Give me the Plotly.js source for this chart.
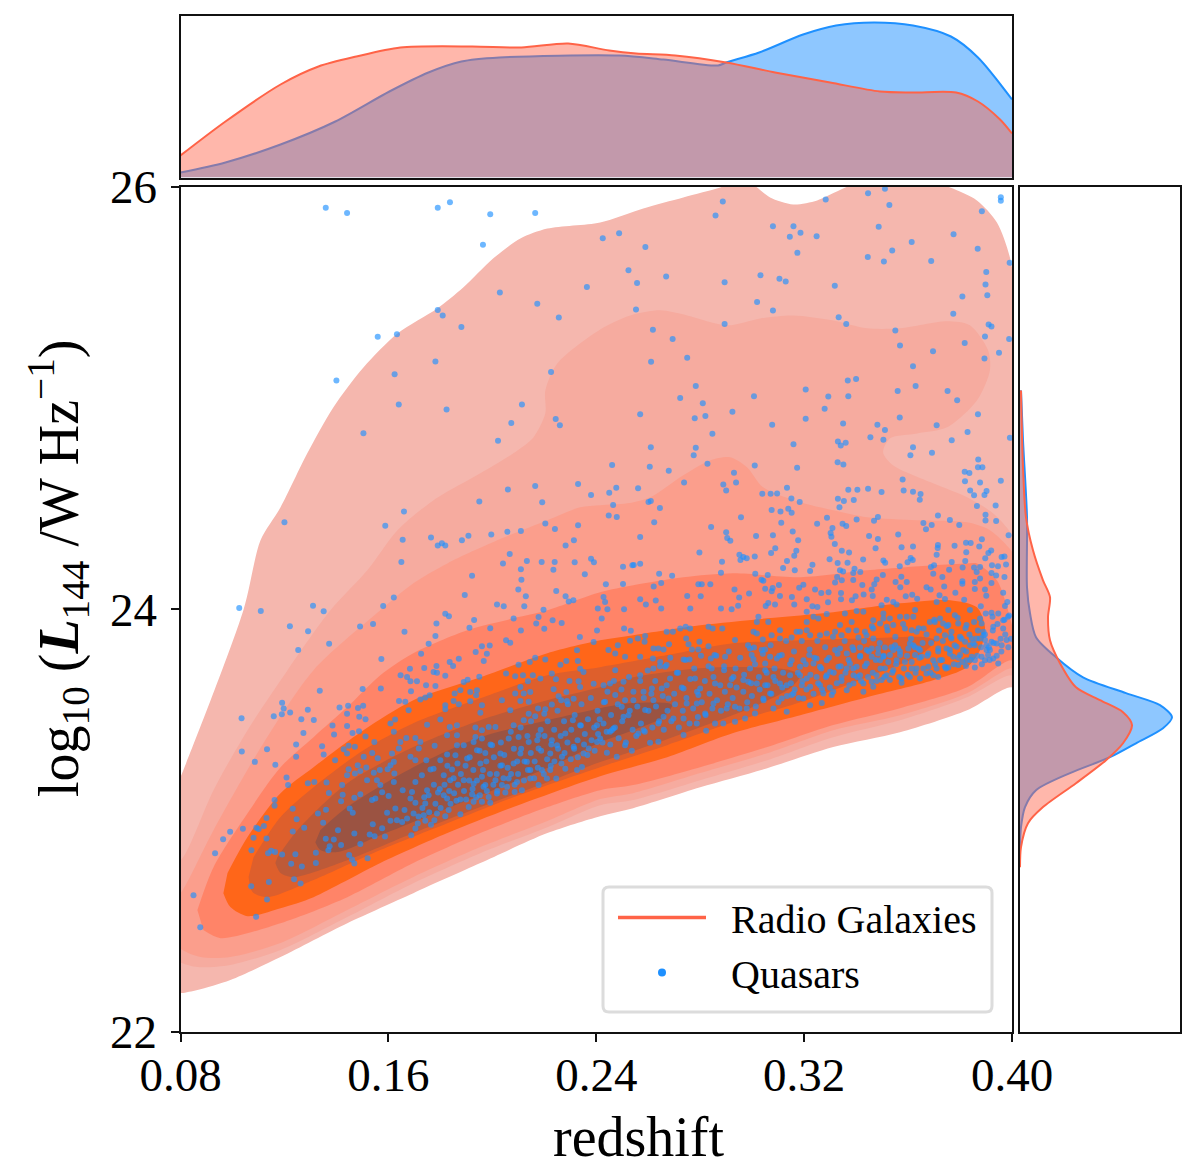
<!DOCTYPE html>
<html><head><meta charset="utf-8">
<script src="https://cdn.plot.ly/plotly-3.0.1.min.js"></script>
<style>html,body{margin:0;padding:0;background:#fff}</style></head>
<body><div id="chart" style="width:1200px;height:1176px"></div>
<script>
// KDE contour levels of the radio galaxies, [redshift, log10 L144], outermost first
const rgLevel1=[[.076,23.1],[.08,23.206],[.1042,23.995],[.1108,24.326],[.1185,24.482],[.1288,24.738],[.1388,24.955],[.1504,25.144],[.1635,25.305],[.1788,25.423],[.1888,25.522],[.2004,25.66],[.2108,25.754],[.2212,25.801],[.2415,25.83],[.2581,25.896],[.2735,25.948],[.2877,25.995],[.2935,26.02],[.3,26.01],[.3019,25.995],[.3069,25.948],[.3158,25.915],[.325,25.934],[.335,25.99],[.3415,26.02],[.3685,26.02],[.3762,25.995],[.3865,25.934],[.3942,25.83],[.3992,25.664],[.4015,25.46],[.403,24.5],[.403,23.6],[.3996,23.631],[.3827,23.522],[.3569,23.418],[.3312,23.348],[.3058,23.248],[.28,23.158],[.2542,23.059],[.2415,23.021],[.2212,22.941],[.1954,22.799],[.1696,22.657],[.1442,22.515],[.1185,22.355],[.0992,22.246],[.0865,22.199],[.0804,22.184],[.0762,22.18]];
const rgLevel2=[[.076,22.78],[.0808,22.823],[.0927,23.144],[.1058,23.428],[.1212,23.712],[.1377,23.995],[.1519,24.184],[.1635,24.374],[.1773,24.515],[.1954,24.643],[.2081,24.738],[.2158,24.813],[.2204,24.927],[.2204,25.035],[.225,25.163],[.2415,25.324],[.2531,25.39],[.2646,25.414],[.275,25.39],[.2904,25.343],[.3031,25.376],[.3158,25.39],[.3312,25.366],[.3442,25.329],[.3569,25.329],[.375,25.362],[.3838,25.343],[.3908,25.225],[.3915,25.13],[.3865,24.988],[.375,24.861],[.3635,24.832],[.3531,24.809],[.3504,24.742],[.3542,24.681],[.3696,24.596],[.3827,24.53],[.3927,24.454],[.3996,24.359],[.403,24.25],[.403,23.65],[.3996,23.688],[.3827,23.584],[.3569,23.475],[.3312,23.395],[.3058,23.286],[.28,23.191],[.2542,23.097],[.2415,23.073],[.2212,22.969],[.1954,22.846],[.1696,22.704],[.1442,22.544],[.1185,22.388],[.0992,22.317],[.0865,22.307],[.0804,22.326],[.0762,22.35]];
const rgLevel3=[[.076,22.6],[.0808,22.671],[.0927,22.955],[.1119,23.366],[.1312,23.712],[.1569,23.995],[.1696,24.123],[.1827,24.217],[.2019,24.326],[.2212,24.421],[.2338,24.482],[.2415,24.492],[.2519,24.501],[.2608,24.53],[.2735,24.634],[.2838,24.704],[.2915,24.719],[.2981,24.671],[.3042,24.577],[.3185,24.506],[.3312,24.468],[.3442,24.435],[.3635,24.421],[.3827,24.411],[.3915,24.374],[.3996,24.279],[.403,24.2],[.403,23.7],[.3996,23.721],[.3827,23.603],[.3569,23.499],[.3312,23.428],[.3058,23.319],[.28,23.225],[.2542,23.13],[.2415,23.102],[.2212,22.998],[.1954,22.875],[.1696,22.733],[.1442,22.577],[.1185,22.421],[.0992,22.355],[.0877,22.355],[.0808,22.388],[.076,22.45]];
const rgLevel4=[[.0865,22.577],[.0927,22.78],[.1058,23.035],[.1185,23.253],[.1312,23.395],[.1442,23.537],[.1569,23.688],[.1696,23.792],[.1904,23.901],[.2081,23.957],[.2212,23.995],[.2415,24.08],[.2542,24.113],[.2735,24.151],[.2927,24.17],[.3185,24.151],[.3442,24.184],[.3696,24.208],[.3827,24.217],[.3865,24.217],[.3942,24.137],[.3977,24.028],[.4,23.924],[.403,23.8],[.403,23.72],[.3996,23.759],[.3827,23.631],[.3569,23.532],[.3312,23.452],[.3058,23.348],[.28,23.253],[.2542,23.168],[.2415,23.144],[.2212,23.064],[.1954,22.941],[.1696,22.799],[.1442,22.638],[.1185,22.515],[.0954,22.444],[.0888,22.482]];
const rgLevel5=[[.0965,22.657],[.0992,22.591],[.1058,22.548],[.1185,22.586],[.1312,22.638],[.1569,22.799],[.1827,22.941],[.2081,23.064],[.2415,23.21],[.2673,23.3],[.2927,23.414],[.3185,23.499],[.3442,23.584],[.3696,23.664],[.3827,23.726],[.3877,23.806],[.3896,23.915],[.3865,24.009],[.3762,24.043],[.3569,24.028],[.3312,23.986],[.3058,23.957],[.28,23.924],[.2542,23.877],[.2415,23.853],[.2212,23.792],[.1954,23.678],[.1696,23.57],[.1504,23.428],[.1312,23.253],[.1185,23.13],[.1058,22.922],[.0981,22.752]];
const rgLevel6=[[.1062,22.733],[.1077,22.662],[.1135,22.638],[.1312,22.719],[.1569,22.861],[.1827,22.988],[.2081,23.111],[.2415,23.253],[.2673,23.357],[.2927,23.466],[.3185,23.56],[.3442,23.678],[.3646,23.783],[.3704,23.853],[.3665,23.868],[.3442,23.863],[.3185,23.853],[.2927,23.839],[.2673,23.783],[.2415,23.726],[.2212,23.688],[.1954,23.579],[.1696,23.461],[.1504,23.333],[.1312,23.158],[.1185,23.017],[.1081,22.827]];
const rgLevel7=[[.1165,22.799],[.1185,22.752],[.1235,22.733],[.1442,22.813],[.1696,22.941],[.1954,23.064],[.2212,23.182],[.2415,23.277],[.2608,23.357],[.28,23.442],[.2992,23.532],[.3146,23.626],[.3185,23.688],[.3146,23.712],[.2992,23.726],[.28,23.721],[.2542,23.678],[.2415,23.631],[.2212,23.57],[.1954,23.475],[.1696,23.348],[.1442,23.177],[.125,22.955],[.1173,22.827]];
const rgLevel8=[[.1319,22.898],[.1338,22.861],[.1404,22.851],[.1569,22.931],[.1827,23.059],[.2081,23.182],[.2262,23.277],[.2415,23.371],[.2542,23.428],[.2658,23.489],[.2692,23.546],[.2673,23.556],[.2542,23.556],[.2415,23.532],[.2212,23.475],[.1954,23.395],[.1696,23.253],[.1442,23.064],[.1338,22.955]];
const rgLevels=[rgLevel1,rgLevel2,rgLevel3,rgLevel4,rgLevel5,rgLevel6,rgLevel7,rgLevel8];
const rgLevelColors=['#F5B7AE','#F6AB9F','#FB9E8C','#FF8468','#FF6619','#DE5F2C','#BD5A38','#9B5342'];

// top marginal density against redshift
const topRgZ=[.08,.0973,.1185,.1331,.1477,.1646,.1923,.2112,.2292,.2450,.2554,.2704,.2900,.3088,.3300,.3492,.3615,.3785,.3869,.3954,.4];
const topRgD=[.22,.56,.93,1.11,1.21,1.30,1.31,1.30,1.34,1.27,1.24,1.22,1.15,1.05,.95,.86,.85,.85,.76,.58,.44];
const topQsoZ=[.08,.0973,.1185,.1396,.1604,.1754,.1881,.2027,.2488,.2658,.2869,.2900,.3027,.3196,.3323,.3469,.3619,.3765,.3869,.4];
const topQsoD=[.05,.15,.33,.56,.86,1.05,1.16,1.20,1.22,1.18,1.12,1.15,1.25,1.43,1.52,1.55,1.52,1.41,1.20,.78];
// right marginal density against log10 L144
const sideRgL=[25.035,24.671,24.435,24.279,24.137,24.057,23.962,23.853,23.745,23.631,23.57,23.513,23.452,23.366,23.286,23.177,23.064,22.988,22.875,22.78];
const sideRgD=[.01,.03,.06,.13,.23,.30,.28,.30,.40,.56,.80,1.03,1.12,1.03,.86,.56,.23,.08,.01,0];
const sideQsoL=[25.035,24.799,24.435,24.104,23.981,23.868,23.773,23.678,23.603,23.546,23.489,23.437,23.366,23.3,23.225,23.144,23.064,22.969,22.875];
const sideQsoD=[.01,.03,.07,.07,.10,.16,.36,.63,1.06,1.40,1.52,1.43,1.16,.90,.50,.16,.05,.01,0];

// quasars, [redshift, log10 L144]
const quasarsUpperLeft=[[.1359,25.9],[.1441,25.875],[.179,25.9],[.1837,25.926],[.1992,25.869],[.2165,25.875],[.1964,25.725],[.2029,25.498],[.2364,25.524],[.2173,25.445],[.2256,25.38],[.179,25.416],[.1809,25.39],[.1881,25.335],[.1559,25.289],[.1633,25.301],[.1781,25.172],[.1624,25.112],[.14,25.082],[.2226,25.123],[.164,24.969],[.1824,24.945],[.2114,24.969],[.2244,24.9],[.226,24.87],[.2073,24.881],[.1504,24.833],[.2022,24.797],[.12,24.411],[.166,24.463],[.1588,24.395],[.195,24.51],[.206,24.567],[.2165,24.583],[.233,24.592],[.238,24.54],[.2192,24.506],[.2204,24.406],[.2241,24.38],[.233,24.397],[.1655,24.329],[.1764,24.34],[.179,24.302],[.1806,24.312],[.1819,24.302],[.1883,24.326],[.1908,24.348],[.1996,24.354],[.2058,24.367],[.211,24.37],[.2282,24.302],[.2314,24.326],[.2067,24.261],[.165,24.223],[.2041,24.216],[.2133,24.228],[.219,24.223],[.224,24.223],[.2317,24.222],[.238,24.239],[.2391,24.222],[.211,24.189],[.2235,24.187],[.1922,24.159],[.2112,24.14],[.2356,24.165],[.21,24.093],[.2246,24.086],[.1894,24.067],[.2129,24.061],[.2282,24.061],[.1621,24.055],[.2018,24.022],[.2044,24.014],[.2294,24.037],[.2312,24.042],[.2123,24.014],[.1026,24.006],[.1109,23.992],[.131,24.017],[.1351,23.99],[.158,24.015],[.2197,23.998],[.2406,24.004]];
const quasarsUpperRight=[[.2887,25.929],[.2859,25.863],[.2488,25.779],[.2425,25.755],[.2589,25.714],[.308,25.812],[.3159,25.812],[.3186,25.781],[.3145,25.762],[.3248,25.765],[.3174,25.686],[.3283,25.938],[.3446,25.968],[.3511,25.989],[.3528,25.913],[.3487,25.809],[.3884,25.883],[.3957,25.949],[.3957,25.933],[.3775,25.774],[.3614,25.738],[.3539,25.697],[.3445,25.667],[.3507,25.645],[.3689,25.647],[.3868,25.705],[.3991,25.639],[.2524,25.604],[.2557,25.544],[.2669,25.574],[.2894,25.547],[.3032,25.58],[.3105,25.563],[.3129,25.55],[.3318,25.53],[.3901,25.595],[.3898,25.536],[.3905,25.486],[.3809,25.48],[.3774,25.398],[.2553,25.418],[.3019,25.453],[.308,25.413],[.2894,25.35],[.3333,25.382],[.3362,25.349],[.2618,25.322],[.2694,25.278],[.3551,25.319],[.3569,25.248],[.3818,25.26],[.391,25.347],[.3921,25.338],[.3896,25.29],[.3989,25.278],[.3696,25.221],[.395,25.213],[.3894,25.186],[.2611,25.171],[.275,25.19],[.3619,25.15],[.2783,25.056],[.3206,25.04],[.3368,25.082],[.34,25.089],[.3629,25.056],[.356,25.032],[.3752,25.033],[.3789,24.989],[.2723,24.999],[.281,24.975],[.3007,25.008],[.3293,25.007],[.337,25.008],[.3279,24.948],[.2924,24.934],[.2569,24.922],[.2779,24.904],[.282,24.914],[.3206,24.901],[.3568,24.907],[.3869,24.922],[.3077,24.873],[.335,24.879],[.3482,24.873],[.3511,24.848],[.371,24.87],[.3829,24.838],[.2847,24.83],[.3455,24.814],[.3505,24.802],[.3768,24.8],[.3992,24.811],[.333,24.794],[.336,24.788],[.3341,24.775],[.3159,24.781],[.261,24.767],[.2783,24.764],[.2775,24.728],[.3619,24.767],[.3692,24.74],[.3609,24.729],[.387,24.709],[.2828,24.688],[.3329,24.695],[.3351,24.685],[.2461,24.682],[.2606,24.674],[.301,24.68],[.3173,24.67],[.3869,24.672],[.3886,24.672],[.2679,24.655],[.293,24.646],[.3818,24.65],[.3836,24.644],[.2738,24.6],[.2938,24.6],[.3579,24.614],[.3819,24.606],[.3877,24.6],[.3957,24.608],[.2889,24.59],[.29,24.562],[.3134,24.575],[.2477,24.575],[.2561,24.573],[.245,24.551],[.337,24.565],[.3405,24.565],[.3446,24.57],[.3498,24.555],[.3583,24.562],[.3619,24.556],[.3648,24.545],[.3839,24.562],[.3902,24.559],[.3854,24.539],[.3894,24.54],[.3039,24.546],[.3071,24.546],[.3096,24.548],[.3151,24.524],[.333,24.523],[.3353,24.512],[.3391,24.517],[.3645,24.518],[.2601,24.507],[.261,24.512],[.3183,24.507],[.2465,24.493],[.3865,24.488],[.3937,24.491],[.2645,24.479],[.3336,24.482],[.3139,24.476],[.3075,24.469],[.3109,24.463],[.3152,24.457],[.2448,24.444],[.2479,24.436],[.2957,24.435],[.3288,24.433],[.3484,24.436],[.3469,24.419],[.3402,24.425],[.3715,24.444],[.3898,24.447],[.3898,24.42],[.3761,24.422],[.3939,24.417],[.2623,24.412],[.3112,24.409],[.325,24.405],[.3348,24.405],[.3362,24.394],[.3659,24.408],[.3691,24.398],[.3797,24.398],[.2842,24.389],[.3309,24.384],[.3669,24.378],[.29,24.364],[.3156,24.368],[.3302,24.361],[.3562,24.354],[.3987,24.35],[.2569,24.342],[.3015,24.346],[.308,24.35],[.3305,24.343],[.345,24.346],[.2904,24.337],[.2916,24.324],[.3177,24.326],[.3484,24.332],[.3884,24.331],[.3823,24.315],[.3841,24.313],[.3318,24.309],[.3715,24.304],[.3779,24.301],[.3575,24.293],[.3619,24.297],[.3874,24.297],[.3475,24.288],[.3714,24.29],[.3089,24.288],[.317,24.277],[.3345,24.277],[.3373,24.268],[.3824,24.27],[.392,24.278],[.3909,24.266],[.2797,24.268],[.3073,24.266],[.2951,24.258],[.2966,24.247],[.301,24.25],[.2979,24.241],[.3162,24.253],[.371,24.258],[.396,24.247],[.3971,24.249],[.2955,24.233],[.3298,24.236],[.3427,24.235],[.361,24.242],[.3618,24.233],[.3134,24.228],[.2884,24.225],[.3505,24.231],[.3512,24.22],[.3329,24.219],[.3367,24.22],[.3598,24.222],[.3768,24.223],[.382,24.228],[.3897,24.241],[.2569,24.215],[.2539,24.208],[.2544,24.209],[.2503,24.201],[.3232,24.211],[.3568,24.204],[.3688,24.2],[.37,24.208],[.3119,24.195],[.3758,24.187],[.381,24.198],[.3854,24.198],[.3877,24.2],[.3923,24.208],[.3946,24.203],[.3977,24.212],[.3394,24.192],[.3164,24.184],[.3223,24.181],[.3338,24.184],[.335,24.179],[.2642,24.168],[.288,24.173],[.3012,24.168],[.3416,24.176],[.3389,24.171],[.3697,24.168],[.3864,24.176],[.3921,24.171],[.3939,24.16],[.3971,24.152],[.2692,24.159],[.306,24.162],[.3503,24.162],[.3574,24.154],[.3732,24.152],[.3327,24.152],[.3345,24.137],[.3389,24.138],[.3877,24.145],[.3036,24.139],[.3043,24.135],[.3479,24.141],[.3552,24.129],[.3595,24.129],[.3809,24.133],[.3809,24.121],[.3857,24.129],[.3921,24.124],[.2437,24.118],[.2503,24.119],[.265,24.124],[.2793,24.118],[.2806,24.118],[.2839,24.118],[.3319,24.126],[.3103,24.115],[.3197,24.116],[.3424,24.115],[.347,24.118],[.2621,24.108],[.3739,24.108],[.3181,24.102],[.357,24.104],[.305,24.097],[.3079,24.1],[.2932,24.094],[.3242,24.093],[.346,24.094],[.3671,24.104],[.3687,24.094],[.3896,24.094],[.3857,24.096],[.3075,24.085],[.3266,24.077],[.3294,24.08],[.3342,24.077],[.2988,24.075],[.3782,24.078],[.3966,24.078],[.2428,24.058],[.2802,24.061],[.275,24.063],[.3107,24.063],[.3429,24.07],[.3153,24.058],[.3464,24.063],[.3591,24.061],[.3616,24.069],[.3721,24.066],[.3901,24.064],[.3398,24.061],[.2569,24.047],[.2629,24.041],[.295,24.055],[.321,24.047],[.3342,24.047],[.3384,24.042],[.3518,24.045],[.3635,24.05],[.3742,24.049],[.3816,24.045],[.2434,24.034],[.2591,24.022],[.3062,24.03],[.3088,24.022],[.3052,24.015],[.2946,24.017],[.3162,24.023],[.3292,24.033],[.3543,24.034],[.371,24.034],[.388,24.014],[.3982,24.034],[.3498,24.019],[.3232,24.014],[.3251,24.011],[.265,24.004],[.2762,24.004],[.288,24.004],[.2921,24],[.2443,24],[.2507,24],[.3556,24.023],[.3973,24.015]];
const quasarsLowerLeft=[[.1221,23.919],[.1291,23.896],[.1491,23.918],[.1541,23.93],[.1253,23.807],[.1372,23.837],[.1662,23.893],[.1785,23.932],[.1781,23.874],[.1755,23.837],[.1726,23.79],[.1573,23.765],[.1912,23.913],[.193,23.949],[.1992,23.91],[.2082,23.956],[.2178,23.963],[.2169,23.932],[.22,23.908],[.2232,23.948],[.2267,23.935],[.211,23.9],[.1819,23.979],[.1833,23.967],[.2337,23.869],[.2403,23.9],[.1683,23.719],[.1647,23.688],[.1672,23.68],[.1685,23.659],[.171,23.659],[.1738,23.722],[.1785,23.732],[.1774,23.703],[.1787,23.699],[.1819,23.685],[.1836,23.751],[.1849,23.732],[.1871,23.766],[.1936,23.798],[.196,23.825],[.199,23.828],[.1979,23.79],[.1967,23.755],[.2053,23.853],[.2069,23.841],[.2101,23.738],[.2144,23.751],[.2165,23.77],[.2204,23.762],[.2262,23.738],[.2285,23.755],[.2326,23.806],[.2329,23.755],[.239,23.845],[.1501,23.623],[.1571,23.625],[.1336,23.614],[.1191,23.558],[.1197,23.53],[.119,23.503],[.1222,23.511],[.1159,23.494],[.129,23.525],[.1265,23.48],[.1313,23.476],[.1035,23.484],[.1412,23.535],[.1445,23.543],[.1441,23.506],[.1483,23.533],[.1503,23.543],[.1488,23.492],[.1512,23.48],[.1385,23.45],[.1441,23.448],[.1273,23.415],[.1391,23.407],[.1462,23.415],[.1487,23.423],[.1512,23.398],[.1245,23.36],[.1345,23.352],[.1036,23.327],[.1133,23.338],[.1086,23.278],[.1165,23.264],[.1245,23.302],[.1351,23.313],[.1395,23.286],[.1208,23.204],[.1214,23.169],[.129,23.177],[.1315,23.183],[.1362,23.18],[.1428,23.338],[.1447,23.354],[.1471,23.349],[.1441,23.317],[.1546,23.372],[.1505,23.302],[.1538,23.32],[.1559,23.295],[.1608,23.459],[.1626,23.478],[.1621,23.42],[.1641,23.566],[.1665,23.562],[.1678,23.522],[.1687,23.612],[.1723,23.573],[.1742,23.582],[.1759,23.593],[.1745,23.64],[.1781,23.637],[.189,23.656],[.1905,23.667],[.195,23.681],[.1819,23.546],[.1819,23.527],[.1851,23.566],[.1871,23.551],[.1855,23.601],[.1877,23.617],[.1915,23.609],[.1941,23.617],[.1938,23.593],[.1915,23.565],[.196,23.546],[.1954,23.51],[.2053,23.696],[.2088,23.683],[.2118,23.688],[.2156,23.688],[.2185,23.672],[.2229,23.696],[.2245,23.669],[.2297,23.661],[.2332,23.659],[.2338,23.719],[.2351,23.703],[.239,23.648],[.2037,23.569],[.2108,23.632],[.2137,23.659],[.2146,23.609],[.2088,23.601],[.2121,23.601],[.2108,23.566],[.214,23.562],[.2229,23.549],[.2236,23.622],[.2285,23.609],[.2338,23.632],[.2255,23.588],[.2265,23.569],[.2287,23.566],[.2313,23.577],[.2069,23.522],[.214,23.506],[.2176,23.53],[.2204,23.527],[.1749,23.454],[.18,23.478],[.1864,23.451],[.1836,23.443],[.1935,23.44],[.196,23.428],[.1986,23.443],[.2012,23.443],[.2082,23.451],[.2121,23.475],[.2165,23.494],[.22,23.506],[.085,22.647],[.0876,22.495],[.0933,22.846],[.0964,22.912],[.0991,22.947],[.104,22.961],[.1092,22.966],[.1101,22.96],[.1121,22.974],[.1131,23.013],[.1081,22.919],[.1131,22.915],[.1073,22.86],[.1137,22.846],[.1149,22.857],[.1164,22.852],[.1072,22.69],[.114,22.71],[.1133,22.627],[.1091,22.545],[.1162,23.097],[.1162,23.07],[.1232,23.056],[.1247,23.007],[.1232,22.948],[.1276,22.966],[.1191,22.84],[.1242,22.841],[.1226,22.796],[.1267,22.783],[.1321,22.799],[.1321,22.848],[.1237,22.723],[.1262,22.703],[.1329,23.034],[.1349,22.99],[.136,23.052],[.1371,23.131],[.1418,23.092],[.1424,23.123],[.1492,23.125],[.1469,23.108],[.1451,23.057],[.1463,23.037],[.1406,22.955],[.1359,22.914],[.139,22.911],[.1374,22.879],[.1369,22.86],[.1418,22.885],[.1469,22.939],[.1528,22.934],[.154,22.983],[.1547,22.926],[.1576,22.964],[.1587,22.925],[.1492,22.889],[.1449,22.837],[.146,22.816],[.1469,22.797],[.152,22.822],[.1688,22.931],[.1422,23.169],[.1447,23.243],[.1441,23.215],[.1471,23.223],[.1482,23.262],[.1518,23.191],[.1492,23.235],[.1515,23.251],[.1544,23.227],[.1567,23.239],[.1597,23.243],[.1556,23.191],[.1569,23.168],[.1537,23.097],[.1576,23.134],[.155,23.105],[.1601,23.117],[.1614,23.317],[.164,23.341],[.1646,23.372],[.1669,23.391],[.1704,23.391],[.1723,23.372],[.1717,23.341],[.1685,23.302],[.1704,23.286],[.1621,23.278],[.1608,23.262],[.1623,23.223],[.1621,23.183],[.1746,23.286],[.1778,23.354],[.1729,23.215],[.1704,23.183],[.1655,23.144],[.1691,23.136],[.1685,23.105],[.1704,23.084],[.1742,23.081],[.1749,23.144],[.1755,23.12],[.1791,23.133],[.1826,23.105],[.1838,23.191],[.1813,23.215],[.18,23.286],[.1774,23.246],[.1762,23.242],[.1826,23.313],[.1845,23.242],[.1864,23.404],[.1826,23.404],[.1864,23.357],[.189,23.357],[.1858,23.309],[.1903,23.294],[.1935,23.396],[.1928,23.372],[.196,23.388],[.1941,23.333],[.1973,23.32],[.1999,23.357],[.2031,23.317],[.2063,23.388],[.2101,23.396],[.214,23.372],[.2178,23.404],[.2229,23.38],[.2281,23.412],[.231,23.475],[.2338,23.451],[.2403,23.451],[.1595,23.037],[.1608,22.999],[.1627,23.057],[.1633,23.002],[.1653,22.994],[.1672,23.01],[.1662,23.05],[.1697,23.034],[.1713,22.986],[.1704,22.963],[.1742,22.999],[.1736,23.026],[.1777,23.002],[.1787,23.034],[.1819,23.021],[.1832,23.05],[.1877,23.03],[.1862,23.094],[.1909,23.065],[.1928,23.089],[.196,23.089],[.1922,23.125],[.1986,23.112],[.2018,23.128],[.205,23.133],[.2086,23.136],[.2114,23.144],[.1992,23.084],[.189,23.191],[.1928,23.175],[.196,23.207],[.1973,23.168],[.2012,23.191],[.2037,23.168],[.2063,23.199],[.2095,23.183],[.2178,23.168],[.2146,23.199],[.221,23.199],[.2246,23.199],[.2146,23.239],[.2191,23.239],[.2223,23.239],[.2281,23.246],[.2326,23.239],[.2345,23.254],[.2371,23.341],[.2351,23.317],[.2249,23.357],[.2178,23.341],[.2108,23.317],[.2082,23.27],[.2037,23.262],[.1954,23.27],[.2133,23.278],[.2223,23.317],[.2268,23.302],[.2313,23.349],[.2403,23.372]];
const quasarsLowerRight=[[.321,23.988],[.3236,23.964],[.3255,23.956],[.3287,23.977],[.3357,23.98],[.3402,23.992],[.3428,23.988],[.321,23.94],[.3184,23.893],[.3505,23.98],[.3466,23.948],[.3505,23.956],[.353,23.956],[.3569,23.964],[.3595,23.964],[.3627,23.996],[.362,23.964],[.3755,23.996],[.3684,23.94],[.3723,23.956],[.3703,23.94],[.3735,23.933],[.378,23.972],[.3838,23.996],[.3825,23.925],[.3877,23.956],[.3466,23.909],[.3492,23.933],[.3518,23.917],[.3543,23.925],[.3588,23.909],[.3614,23.901],[.3633,23.893],[.366,23.909],[.3755,23.925],[.3767,23.893],[.3793,23.933],[.371,23.862],[.3742,23.877],[.3767,23.862],[.38,23.87],[.3819,23.846],[.3845,23.862],[.321,23.901],[.3223,23.877],[.3261,23.877],[.3287,23.885],[.3319,23.893],[.3338,23.925],[.3383,23.94],[.3434,23.893],[.344,23.877],[.3344,23.877],[.337,23.901],[.3409,23.866],[.3466,23.862],[.2421,23.956],[.2507,23.909],[.2533,23.898],[.253,23.851],[.256,23.862],[.2588,23.873],[.2586,23.846],[.2671,23.893],[.2695,23.893],[.2723,23.909],[.2744,23.917],[.2761,23.909],[.2832,23.917],[.2848,23.909],[.2885,23.909],[.3062,23.94],[.3018,23.94],[.3024,23.964],[.3005,23.893],[.3018,23.885],[.3107,23.901],[.3075,23.877],[.3107,23.862],[.3152,23.866],[.3171,23.893],[.2934,23.854],[.3041,23.857],[.2746,23.862],[.2755,23.835],[.2797,23.846],[.2832,23.825],[.268,23.835],[.2483,23.83],[.2447,23.807],[.2473,23.791],[.2511,23.775],[.2569,23.775],[.262,23.814],[.2639,23.814],[.2659,23.81],[.2618,23.767],[.2646,23.751],[.2671,23.736],[.2736,23.762],[.2759,23.762],[.2768,23.81],[.2793,23.81],[.2855,23.783],[.2841,23.767],[.2896,23.775],[.2992,23.814],[.3007,23.819],[.3037,23.807],[.305,23.81],[.2998,23.783],[.3005,23.764],[.305,23.743],[.3069,23.775],[.3095,23.767],[.3114,23.783],[.3152,23.759],[.3197,23.759],[.322,23.783],[.3248,23.767],[.3287,23.759],[.3319,23.807],[.3338,23.814],[.3364,23.791],[.339,23.807],[.3415,23.819],[.346,23.814],[.3485,23.791],[.3511,23.819],[.355,23.83],[.3562,23.814],[.353,23.783],[.3492,23.759],[.362,23.83],[.3646,23.807],[.3627,23.783],[.3601,23.814],[.3716,23.814],[.3748,23.814],[.3787,23.822],[.3838,23.83],[.3774,23.775],[.38,23.783],[.3697,23.759],[.3678,23.728],[.3742,23.728],[.371,23.72],[.3556,23.759],[.3588,23.751],[.3633,23.72],[.3614,23.72],[.3543,23.712],[.3511,23.72],[.3479,23.688],[.346,23.657],[.3498,23.665],[.3517,23.688],[.353,23.665],[.3575,23.672],[.3607,23.68],[.3646,23.672],[.3575,23.652],[.3671,23.696],[.3441,23.743],[.3402,23.728],[.3415,23.688],[.339,23.688],[.3364,23.72],[.3332,23.728],[.33,23.704],[.3261,23.728],[.3236,23.743],[.3184,23.728],[.3146,23.688],[.3184,23.688],[.321,23.672],[.3248,23.68],[.3287,23.688],[.3344,23.68],[.339,23.649],[.3428,23.649],[.3466,23.633],[.3428,23.61],[.3364,23.617],[.3312,23.61],[.3274,23.602],[.3223,23.633],[.3261,23.641],[.3191,23.641],[.3159,23.602],[.3133,23.641],[.3107,23.649],[.3152,23.594],[.3197,23.578],[.3223,23.546],[.3268,23.557],[.3306,23.594],[.3133,23.515],[.3082,23.531],[.3114,23.578],[.3069,23.602],[.305,23.641],[.3082,23.68],[.305,23.712],[.2992,23.72],[.2966,23.665],[.2985,23.657],[.3018,23.649],[.2928,23.68],[.2915,23.641],[.2857,23.649],[.2844,23.72],[.2892,23.712],[.278,23.672],[.28,23.625],[.2736,23.625],[.2684,23.672],[.271,23.699],[.262,23.72],[.2665,23.728],[.2569,23.688],[.2473,23.712],[.2505,23.657],[.2428,23.641],[.2453,23.649],[.2473,23.594],[.2434,23.562],[.2498,23.539],[.2543,23.57],[.2582,23.61],[.2614,23.625],[.2652,23.625],[.2678,23.578],[.262,23.57],[.2588,23.523],[.2524,23.499],[.2466,23.436],[.2453,23.42],[.2562,23.412],[.2582,23.428],[.2639,23.46],[.2659,23.491],[.2697,23.483],[.2736,23.483],[.2748,23.554],[.2787,23.554],[.2793,23.594],[.2851,23.554],[.2902,23.531],[.2934,23.539],[.2979,23.531],[.3043,23.578],[.3011,23.507],[.2787,23.46],[.2819,23.507],[.2857,23.46],[.2889,23.46],[.2934,23.468],[.2973,23.483],[.2823,23.425],[.2736,23.405],[.2607,23.368],[.2639,23.373],[.2537,23.33],[.2479,23.302],[.2441,23.321],[.2511,23.357],[.2415,23.389],[.246,23.428],[.2428,23.46],[.2505,23.491],[.346,23.775],[.3485,23.814],[.3505,23.775],[.3543,23.807],[.3569,23.783],[.3607,23.838],[.364,23.814],[.3652,23.775],[.3678,23.791],[.3723,23.759],[.3761,23.807],[.3812,23.807],[.3857,23.83],[.3864,23.862],[.389,23.893],[.3902,23.807],[.3845,23.775],[.3415,23.775],[.3441,23.807],[.3376,23.743],[.3883,23.933],[.3921,23.983],[.3925,23.964],[.3947,23.98],[.3966,23.948],[.3985,23.964],[.3928,23.917],[.3966,23.909],[.389,23.877],[.3896,23.854],[.3902,23.83],[.3877,23.862],[.3921,23.846],[.3941,23.838],[.3979,23.854],[.396,23.83],[.3915,23.807],[.3908,23.783],[.3928,23.767],[.3947,23.743],[.3883,23.775],[.3896,23.759],[.3857,23.759],[.3825,23.759],[.3823,23.731],[.3857,23.725],[.3793,23.736],[.3755,23.725],[.3716,23.68],[.3697,23.688]];
// dots in the crowded band, where single dots merge: positions estimated by eye
const quasarsCrowdedBand=[[.1716,23.02],[.1731,23.06],[.1738,23.11],[.1757,23.04],[.1764,22.98],[.1775,23.17],[.1781,23.08],[.1798,23.15],[.1801,23.06],[.1813,23.12],[.1816,23.17],[.1827,23.26],[.1834,23.14],[.1839,23.08],[.1851,23.2],[.1853,23.13],[.1866,23.27],[.1868,23.17],[.1877,23.1],[.1879,23.22],[.1891,23.14],[.1897,23.26],[.1899,23.1],[.1911,23.19],[.1913,23.3],[.1924,23.15],[.1927,23.24],[.1938,23.11],[.1941,23.19],[.1951,23.33],[.1952,23.12],[.1964,23.24],[.1966,23.16],[.1977,23.28],[.1979,23.14],[.1991,23.22],[.1993,23.36],[.2004,23.17],[.2006,23.3],[.2017,23.22],[.2019,23.14],[.2031,23.26],[.2033,23.37],[.2043,23.2],[.2046,23.31],[.2057,23.16],[.2059,23.25],[.2071,23.42],[.2072,23.22],[.2083,23.34],[.2086,23.17],[.2096,23.28],[.2099,23.22],[.2109,23.44],[.2111,23.34],[.2122,23.19],[.2124,23.28],[.2135,23.4],[.2137,23.24],[.2148,23.32],[.2149,23.47],[.2161,23.2],[.2163,23.28],[.2173,23.38],[.2175,23.25],[.2186,23.43],[.2188,23.33],[.2198,23.22],[.2201,23.4],[.2211,23.29],[.2213,23.47],[.2225,23.26],[.2227,23.36],[.2238,23.43],[.2239,23.28],[.2251,23.52],[.2253,23.34],[.2263,23.4],[.2266,23.27],[.2276,23.47],[.2278,23.32],[.2289,23.37],[.2291,23.55],[.2302,23.29],[.2304,23.43],[.2315,23.34],[.2317,23.5],[.2328,23.38],[.2329,23.3],[.2341,23.45],[.2343,23.55],[.2353,23.36],[.2356,23.41],[.2366,23.31],[.2368,23.48],[.2379,23.58],[.2382,23.38],[.2392,23.44],[.2394,23.33],[.2405,23.52],[.2407,23.41],[.2413,23.48],[.2424,23.37],[.2429,23.56],[.244,23.42],[.2443,23.61],[.2454,23.36],[.2457,23.5],[.2468,23.66],[.2472,23.44],[.2483,23.55],[.2486,23.39],[.2497,23.62],[.25,23.47],[.2511,23.57],[.2514,23.37],[.2526,23.68],[.2529,23.52],[.254,23.43],[.2543,23.61],[.2554,23.4],[.2558,23.54],[.2569,23.66],[.2572,23.46],[.2583,23.58],[.2587,23.42],[.2598,23.71],[.2601,23.52],[.2612,23.6],[.2616,23.44],[.2627,23.66],[.263,23.54],[.2642,23.47],[.2645,23.73],[.2656,23.59],[.266,23.43],[.2671,23.64],[.2674,23.52],[.2685,23.77],[.2689,23.47],[.27,23.6],[.2703,23.55],[.2715,23.7],[.2718,23.44],[.2729,23.63],[.2733,23.52],[.2744,23.76],[.2747,23.58],[.2759,23.46],[.2762,23.67],[.2773,23.53],[.2777,23.72],[.2788,23.61],[.2791,23.49],[.2803,23.78],[.2806,23.56],[.2818,23.66],[.2821,23.5],[.2832,23.73],[.2836,23.6],[.2847,23.53],[.2851,23.68],[.2862,23.78],[.2865,23.57],[.2877,23.64],[.288,23.52],[.2892,23.73],[.2895,23.61],[.2906,23.55],[.291,23.8],[.2921,23.67],[.2925,23.58],[.2936,23.72],[.294,23.63],[.2951,23.53],[.2954,23.77],[.2966,23.61],[.2969,23.69],[.2981,23.56],[.2984,23.83],[.2996,23.65],[.2999,23.59],[.3011,23.74],[.3014,23.54],[.3026,23.68],[.3029,23.62],[.3041,23.79],[.3044,23.57],[.3056,23.7],[.3059,23.64],[.3071,23.83],[.3074,23.6],[.3086,23.72],[.3089,23.66],[.3101,23.56],[.3104,23.78],[.3116,23.63],[.3119,23.7],[.3131,23.85],[.3134,23.59],[.3146,23.74],[.3149,23.65],[.3161,23.8],[.3164,23.62],[.3176,23.7],[.3179,23.58],[.3191,23.85],[.3194,23.66],[.3206,23.74],[.3209,23.62],[.3221,23.81],[.3224,23.69],[.3236,23.6],[.3239,23.77],[.3251,23.85],[.3254,23.65],[.3266,23.72],[.3269,23.62],[.3281,23.82],[.3284,23.68],[.3296,23.77],[.3299,23.63],[.3311,23.87],[.3314,23.7],[.3326,23.65],[.3329,23.79],[.3341,23.73],[.3344,23.66],[.3356,23.85],[.3359,23.7],[.3371,23.76],[.3374,23.64],[.3386,23.82],[.3389,23.72],[.3401,23.9],[.3404,23.68],[.3416,23.78],[.3419,23.66],[.3431,23.85],[.3434,23.73],[.3446,23.68],[.3449,23.8],[.3461,23.92],[.3464,23.7],[.3476,23.76],[.3479,23.66],[.3491,23.84],[.3494,23.72],[.3506,23.78],[.3509,23.68],[.3521,23.9],[.3524,23.75],[.3536,23.82],[.3539,23.7],[.3551,23.87],[.3554,23.74],[.3566,23.68],[.3569,23.8],[.3581,23.93],[.3584,23.72],[.3596,23.78],[.3599,23.69],[.3611,23.86],[.3614,23.75],[.3626,23.82],[.3629,23.7],[.3641,23.91],[.3644,23.77],[.3656,23.84],[.3659,23.72],[.3671,23.88],[.3674,23.78],[.3686,23.7],[.3689,23.84],[.3701,23.95],[.3704,23.74],[.3716,23.8],[.3719,23.9],[.3731,23.76],[.3734,23.85],[.3746,23.72],[.3749,23.92],[.3761,23.79],[.3764,23.87],[.3776,23.74],[.3779,23.83],[.3791,23.96],[.3794,23.77],[.3806,23.86],[.3809,23.75],[.3821,23.91],[.3824,23.8],[.3836,23.88],[.3839,23.76],[.3851,23.84],[.3854,23.94],[.3866,23.78],[.3869,23.9],[.3881,23.82],[.3884,23.74],[.3896,23.88],[.3899,23.98],[.3911,23.82],[.3914,23.76],[.3926,23.9],[.3929,23.84],[.3941,23.78],[.3944,23.93],[.3956,23.86],[.3959,23.8],[.3971,23.95],[.3974,23.88],[.3986,23.82],[.3989,23.97],[.3996,23.86]];
const quasars=[...quasarsUpperLeft,...quasarsUpperRight,...quasarsLowerLeft,...quasarsLowerRight,...quasarsCrowdedBand];

const TICKS_X=[.08,.16,.24,.32,.40], TICKLABELS_X=['0.08','0.16','0.24','0.32','0.40'];
const TICKS_Y=[22,24,26], TICKLABELS_Y=['22','24','26'];
const RED='#FF6347', BLUE='#1E90FF', W=1200, H=1176;
const px=v=>v/W, py=v=>1-v/H;
const serif='"Liberation Serif","Times New Roman",serif';

const traces=[];
rgLevels.forEach((lv,i)=>traces.push({type:'scatter',mode:'lines',x:lv.map(p=>p[0]),y:lv.map(p=>p[1]),
  fill:'toself',fillcolor:rgLevelColors[i],line:{width:0,shape:'spline',smoothing:.8},hoverinfo:'skip',showlegend:false,xaxis:'x',yaxis:'y'}));
traces.push({type:'scatter',mode:'markers',x:quasars.map(p=>p[0]),y:quasars.map(p=>p[1]),
  marker:{color:BLUE,size:6,opacity:.65},showlegend:false,xaxis:'x',yaxis:'y'});
// legend entries
traces.push({type:'scatter',mode:'lines',x:[null],y:[null],name:'\u00a0\u00a0Radio Galaxies',line:{color:RED,width:3.5},xaxis:'x',yaxis:'y'});
traces.push({type:'scatter',mode:'markers',x:[null],y:[null],name:'\u00a0\u00a0Quasars',marker:{color:BLUE,size:8},xaxis:'x',yaxis:'y'});
// top marginal
traces.push({type:'scatter',mode:'lines',x:topQsoZ,y:topQsoD,fill:'tozeroy',fillcolor:'rgba(30,144,255,.5)',line:{color:BLUE,width:2,shape:'spline',smoothing:.8},showlegend:false,xaxis:'x2',yaxis:'y2'});
traces.push({type:'scatter',mode:'lines',x:topRgZ,y:topRgD,fill:'tozeroy',fillcolor:'rgba(255,99,71,.46)',line:{color:RED,width:2,shape:'spline',smoothing:.8},showlegend:false,xaxis:'x2',yaxis:'y2'});
// right marginal
traces.push({type:'scatter',mode:'lines',x:sideQsoD,y:sideQsoL,fill:'tozerox',fillcolor:'rgba(30,144,255,.5)',line:{color:BLUE,width:2,shape:'spline',smoothing:.8},showlegend:false,xaxis:'x3',yaxis:'y3'});
traces.push({type:'scatter',mode:'lines',x:sideRgD,y:sideRgL,fill:'tozerox',fillcolor:'rgba(255,99,71,.46)',line:{color:RED,width:2,shape:'spline',smoothing:.8},showlegend:false,xaxis:'x3',yaxis:'y3'});

const frame={showline:true,mirror:true,linecolor:'#111',linewidth:2,showgrid:false,zeroline:false};
const bare={...frame,ticks:'',showticklabels:false};
const tickFont={family:serif,size:47,color:'#000'};
const r=6,lx0=603,lx1=992,ly0=887,ly1=1012;
const boxPath=`M${px(lx0+r)},${py(ly0)} L${px(lx1-r)},${py(ly0)} Q${px(lx1)},${py(ly0)} ${px(lx1)},${py(ly0+r)} L${px(lx1)},${py(ly1-r)} Q${px(lx1)},${py(ly1)} ${px(lx1-r)},${py(ly1)} L${px(lx0+r)},${py(ly1)} Q${px(lx0)},${py(ly1)} ${px(lx0)},${py(ly1-r)} L${px(lx0)},${py(ly0+r)} Q${px(lx0)},${py(ly0)} ${px(lx0+r)},${py(ly0)} Z`;

const layout={width:W,height:H,margin:{l:0,r:0,t:0,b:0},paper_bgcolor:'#fff',plot_bgcolor:'#fff',
  font:{family:serif,color:'#000'},showlegend:true,hovermode:false,
  xaxis:{...frame,domain:[px(180.5),px(1012)],range:[.08,.40],tickvals:TICKS_X,ticktext:TICKLABELS_X,ticks:'outside',ticklen:8,tickwidth:2,tickcolor:'#111',tickfont:tickFont,ticklabelstandoff:-7,anchor:'y'},
  yaxis:{...frame,domain:[py(1032),py(186.5)],range:[22,26],tickvals:TICKS_Y,ticktext:TICKLABELS_Y,ticks:'outside',ticklen:8,tickwidth:2,tickcolor:'#111',tickfont:tickFont,ticklabelstandoff:4,anchor:'x'},
  xaxis2:{...bare,domain:[px(180.5),px(1012)],range:[.08,.40],anchor:'y2'},
  yaxis2:{...bare,domain:[py(177.5),py(15.5)],range:[0,1.62],anchor:'x2'},
  xaxis3:{...bare,domain:[px(1020),px(1180)],range:[0,1.6],anchor:'y3'},
  yaxis3:{...bare,domain:[py(1032),py(186.5)],range:[22,26],anchor:'x3'},
  legend:{x:px(613),y:py(885),xanchor:'left',yanchor:'top',bgcolor:'rgba(0,0,0,0)',borderwidth:0,itemwidth:88,font:{family:serif,size:40,color:'#000'},tracegroupgap:0},
  shapes:[{type:'path',xref:'paper',yref:'paper',path:boxPath,fillcolor:'#fff',line:{color:'#DCDCDC',width:3},layer:'above'}],
  annotations:[
    {xref:'paper',yref:'paper',x:px(638.5),y:py(1137),text:'redshift',showarrow:false,xanchor:'center',yanchor:'middle',font:{family:serif,size:56,color:'#000'}},
    {xref:'paper',yref:'paper',x:px(58),y:py(569),text:'log<sub>10</sub> (<b><i>L</i></b><sub>144</sub> /W Hz<sup>−1</sup>)',textangle:-90,showarrow:false,xanchor:'center',yanchor:'middle',font:{family:serif,size:56,color:'#000'}}
  ]};
Plotly.newPlot('chart',traces,layout,{staticPlot:true,displayModeBar:false});
</script></body></html>
